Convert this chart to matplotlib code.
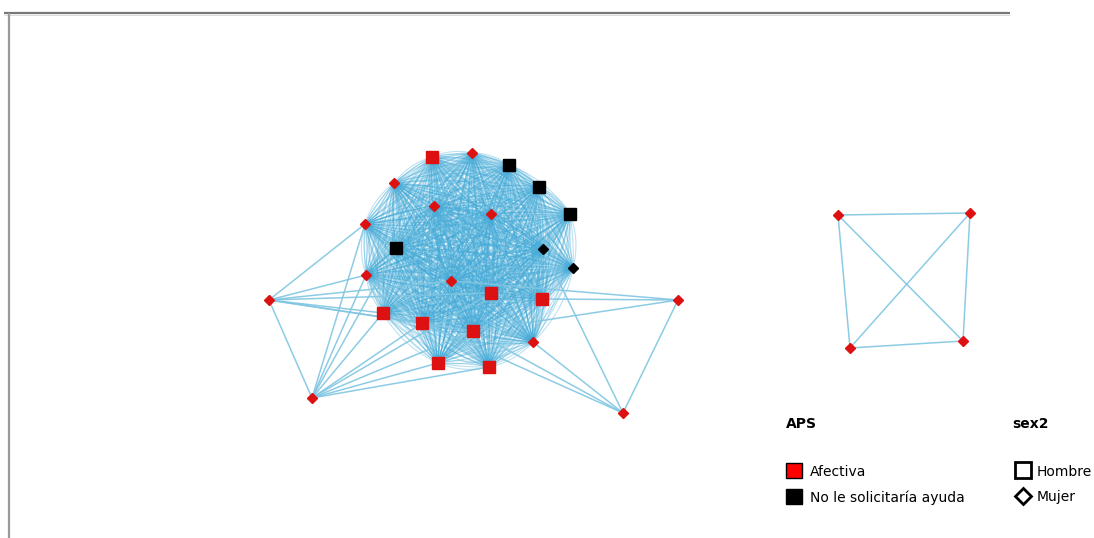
import numpy as np
import matplotlib
matplotlib.use("Agg")
import matplotlib.pyplot as plt
from matplotlib.collections import LineCollection
from matplotlib.patches import Rectangle

# node layout (screen coordinates of the network drawing)
node_x = [432, 472, 509, 539, 570, 394, 434, 491, 365, 396, 543, 573, 366, 451, 491, 542,
          269, 678, 383, 422, 473, 533, 438, 489, 312, 623,
          838, 970, 850, 963]
node_y = [157, 153, 165, 187, 214, 183, 206, 214, 224, 248, 249, 268, 275, 281, 293, 299,
          300, 300, 313, 323, 331, 342, 363, 367, 398, 413,
          215, 213, 348, 341]
# APS: 0 = Afectiva, 1 = No le solicitaria ayuda
node_aps = [0, 0, 1, 1, 1, 0, 0, 0, 0, 1, 1, 1, 0, 0, 0, 0,
            0, 0, 0, 0, 0, 0, 0, 0, 0, 0,
            0, 0, 0, 0]
# sex2: 0 = Hombre (square), 1 = Mujer (diamond)
node_sex = [0, 1, 0, 0, 0, 1, 1, 1, 1, 0, 1, 1, 1, 1, 0, 0,
            1, 1, 0, 0, 0, 1, 0, 0, 1, 1,
            1, 1, 1, 1]

# dense core group: everyone tied to everyone
core = [0, 1, 2, 3, 4, 5, 6, 7, 8, 9, 10, 11, 12, 13, 14, 15, 18, 19, 20, 21, 22, 23]
# peripheral ties
extra_ties = {
    16: [8, 12, 13, 14, 18, 19, 20, 24],
    24: [8, 9, 12, 18, 19, 20, 22, 23, 14],
    17: [15, 13, 20, 25],
    25: [21, 10, 20, 19],
}
pair_group = [26, 27, 28, 29]

aps_labels = ["Afectiva", "No le solicitaría ayuda"]
sex_labels = ["Hombre", "Mujer"]

edge_col = "#42aad8"
aps_cols = ["#dd1111", "#000000"]


def arc(p, q, rad, n=24):
    # quadratic bezier between p and q, bent sideways by rad
    p = np.asarray(p, float)
    q = np.asarray(q, float)
    mid = (p + q) / 2
    d = q - p
    ctrl = mid + rad * np.array([-d[1], d[0]])
    t = np.linspace(0, 1, n)[:, None]
    return (1 - t) ** 2 * p + 2 * (1 - t) * t * ctrl + t ** 2 * q


pts = list(zip(node_x, node_y))

curved = []
for a in range(len(core)):
    for b in range(a + 1, len(core)):
        i, j = core[a], core[b]
        for rad in (0.16, 0.05):
            curved.append(arc(pts[i], pts[j], rad))
            curved.append(arc(pts[j], pts[i], rad))

straight = []
for i, nb in extra_ties.items():
    for j in nb:
        straight.append([pts[i], pts[j]])
for a in range(len(pair_group)):
    for b in range(a + 1, len(pair_group)):
        straight.append([pts[pair_group[a]], pts[pair_group[b]]])

fig = plt.figure(figsize=(10.94, 5.38), dpi=100)
ax = fig.add_axes([0, 0, 1, 1])
ax.set_xlim(0, 1094)
ax.set_ylim(538, 0)
ax.axis("off")

ax.add_collection(LineCollection(curved, colors=edge_col, linewidths=0.8, alpha=0.35, zorder=1))
ax.add_collection(LineCollection(straight, colors="#80c6e2", linewidths=1.1, alpha=0.9, zorder=1))

for i in range(len(node_x)):
    if node_sex[i] == 0:
        ax.plot(node_x[i], node_y[i], marker="s", ms=8.3, color=aps_cols[node_aps[i]],
                mec=aps_cols[node_aps[i]], zorder=3)
    else:
        ax.plot(node_x[i], node_y[i], marker="D", ms=4.6, color=aps_cols[node_aps[i]],
                mec=aps_cols[node_aps[i]], zorder=3)

# window frame
ax.plot([4, 1010], [13, 13], color="#777777", lw=1.6, solid_capstyle="butt")
ax.plot([4, 1010], [15, 15], color="#dddddd", lw=0.8, solid_capstyle="butt")
ax.plot([9, 9], [13, 538], color="#999999", lw=1.6, solid_capstyle="butt")

# legend
fs = 10
ax.text(786, 424, "APS", fontsize=fs, fontweight="bold", va="center", ha="left")
ax.text(1012, 424, "sex2", fontsize=fs, fontweight="bold", va="center", ha="left")
for k, lab in enumerate(aps_labels):
    y = 470.5 + 25.5 * k
    ax.add_patch(Rectangle((786, y - 7.5), 16, 15, facecolor=["#ff0000", "#000000"][k],
                           edgecolor="black", lw=1))
    ax.text(810, y + 1.5, lab, fontsize=fs, va="center", ha="left")
for k, lab in enumerate(sex_labels):
    y = 470 + 26 * k
    if k == 0:
        ax.plot(1022.5, y, marker="s", ms=11, mfc="white", mec="black", mew=2)
    else:
        ax.plot(1023, y, marker="D", ms=8, mfc="white", mec="black", mew=2)
    ax.text(1037, y + 1.5, lab, fontsize=fs, va="center", ha="left")

fig.savefig("out.png", dpi=100)
